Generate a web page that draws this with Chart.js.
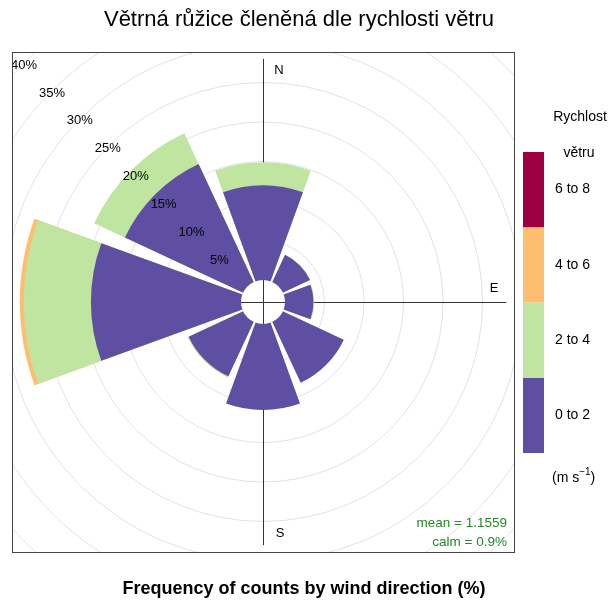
<!doctype html>
<html>

<head>
	<meta charset="utf-8">
	<title>Větrná růžice</title>
	<script src="https://cdn.jsdelivr.net/npm/chart.js@4.4.0/dist/chart.umd.min.js"></script>
	<style>
	body {
		margin: 0;
		background: #fff;
	}
	.chart-container {
		width: 610px;
		height: 601px;
	}
	</style>
</head>

<body>
	<div class="chart-container">
		<canvas id="rose"></canvas>
	</div>
	<script>
		// wind directions (45 degree sectors) and speed bins
		var directions = ['N', 'NE', 'E', 'SE', 'S', 'SW', 'W', 'NW'];
		var speedBins = ['0 to 2', '2 to 4', '4 to 6', '6 to 8'];

		// frequency (%) per direction for each speed bin
		var speed0to2 = [12.0, 3.8, 3.6, 8.5, 10.9, 7.6, 19.0, 16.5];
		var speed2to4 = [2.9, 0, 0.1, 0, 0, 0.15, 8.5, 4.3];
		var speed4to6 = [0, 0, 0, 0, 0, 0, 0.5, 0];
		var speed6to8 = [0, 0, 0, 0, 0, 0, 0, 0];

		var ringTicks = [5, 10, 15, 20, 25, 30, 35, 40];
		var meanSpeed = '1.1559';
		var calmPct = '0.9%';

		var binColors = ['#5E4FA2', '#BFE5A0', '#FDBF6F', '#9E0142'];
		var FONT = '"Liberation Sans", Arial, Helvetica, sans-serif';

		// geometry: hole of 22px, 7.9px per percent, drawing radius 250px
		var holePx = 22;
		var pxPerPct = 7.9;
		var rMin = -holePx / pxPerPct;
		var rMax = rMin + 250 / pxPerPct;
		var panel = {left: 12.5, top: 52.5, right: 514.5, bottom: 552.5};

		var bins = [speed0to2, speed2to4, speed4to6, speed6to8];
		var maxTotal = 0;
		directions.forEach(function(d, i) {
			var t = 0;
			bins.forEach(function(b) { t += b[i]; });
			maxTotal = Math.max(maxTotal, t);
		});

		// cumulative values, each direction followed by a small empty gap sector
		var datasets = bins.map(function(bin, b) {
			var data = [];
			directions.forEach(function(d, i) {
				var cum = 0;
				for (var k = 0; k <= b; k++) {
					cum += bins[k][i];
				}
				data.push(cum, 0);
			});
			return {
				label: speedBins[b],
				data: data,
				borderWidth: 0,
				angle: function(ctx) {
					return ctx.dataIndex % 2 ? 5 : 40;
				},
				backgroundColor: function(ctx) {
					var i = ctx.dataIndex;
					if (i % 2 || !(bin[i / 2] > 0)) {
						return 'rgba(0,0,0,0)';
					}
					return binColors[b];
				}
			};
		});

		var labels = [];
		directions.forEach(function(d) { labels.push(d, ''); });

		function text(ctx, str, x, y, size, opts) {
			opts = opts || {};
			ctx.font = (opts.bold ? 'bold ' : '') + size + 'px ' + FONT;
			ctx.fillStyle = opts.color || '#000';
			ctx.textAlign = opts.align || 'center';
			ctx.textBaseline = 'middle';
			ctx.fillText(str, x, y);
		}

		var roseDecor = {
			id: 'roseDecor',
			beforeDatasetsDraw: function(chart) {
				var ctx = chart.ctx;
				var s = chart.scales.r;
				var cx = s.xCenter, cy = s.yCenter;
				ctx.save();
				ctx.beginPath();
				ctx.rect(panel.left, panel.top, panel.right - panel.left, panel.bottom - panel.top);
				ctx.clip();
				ctx.strokeStyle = '#e2e2e2';
				ctx.lineWidth = 1;
				ringTicks.forEach(function(v) {
					ctx.beginPath();
					ctx.arc(cx, cy, s.getDistanceFromCenterForValue(v), 0, 2 * Math.PI);
					ctx.stroke();
				});
				var ra = s.getDistanceFromCenterForValue(maxTotal);
				ctx.strokeStyle = '#333';
				ctx.beginPath();
				ctx.moveTo(cx - ra, cy + 0.5);
				ctx.lineTo(cx + ra, cy + 0.5);
				ctx.moveTo(cx + 0.5, cy - ra);
				ctx.lineTo(cx + 0.5, cy + ra);
				ctx.stroke();
				ctx.restore();
			},
			afterDatasetsDraw: function(chart) {
				var ctx = chart.ctx;
				var s = chart.scales.r;
				var cx = s.xCenter, cy = s.yCenter;
				var hole = s.getDistanceFromCenterForValue(0);
				ctx.save();

				// hole in the middle, axes cross it
				ctx.fillStyle = '#fff';
				ctx.beginPath();
				ctx.arc(cx, cy, hole, 0, 2 * Math.PI);
				ctx.fill();
				ctx.strokeStyle = '#333';
				ctx.lineWidth = 1;
				ctx.beginPath();
				ctx.moveTo(cx - hole, cy + 0.5);
				ctx.lineTo(cx + hole, cy + 0.5);
				ctx.moveTo(cx + 0.5, cy - hole);
				ctx.lineTo(cx + 0.5, cy + hole);
				ctx.stroke();

				// ring labels along NW
				ctx.save();
				ctx.beginPath();
				ctx.rect(panel.left, panel.top, panel.right - panel.left, panel.bottom - panel.top);
				ctx.clip();
				ringTicks.forEach(function(v) {
					var r = s.getDistanceFromCenterForValue(v) * Math.SQRT1_2;
					text(ctx, v + '%', cx - r, cy - r + 2, 13);
				});
				ctx.restore();

				// compass letters
				var rl = s.getDistanceFromCenterForValue(maxTotal) - 12;
				text(ctx, 'N', cx + 16, cy - rl, 13);
				text(ctx, 'E', cx + rl, cy - 14, 13);
				text(ctx, 'S', cx + 17, cy + rl, 13);

				// statistics
				text(ctx, 'mean = ' + meanSpeed, 507, 523, 13.5, {align: 'right', color: '#228B22'});
				text(ctx, 'calm = ' + calmPct, 507, 542, 13.5, {align: 'right', color: '#228B22'});

				// panel border
				ctx.strokeStyle = '#444';
				ctx.strokeRect(panel.left, panel.top, panel.right - panel.left, panel.bottom - panel.top);

				// title and x label
				text(ctx, 'Větrná růžice členěná dle rychlosti větru', 299, 20, 22);
				text(ctx, 'Frequency of counts by wind direction (%)', 304, 589, 18, {bold: true});

				// colour key
				var keyX = 523, keyW = 21, keyTop = 152, segH = 75.25;
				for (var b = 0; b < speedBins.length; b++) {
					var y0 = keyTop + (speedBins.length - 1 - b) * segH;
					ctx.fillStyle = binColors[b];
					ctx.fillRect(keyX, y0, keyW, segH);
					text(ctx, speedBins[b], 555, y0 + segH / 2, 14, {align: 'left'});
				}
				text(ctx, 'Rychlost', 580, 117, 14);
				text(ctx, 'větru', 579, 153, 14);
				ctx.font = '14px ' + FONT;
				ctx.textAlign = 'left';
				var ux = 552, uy = 478;
				ctx.fillText('(m s', ux, uy);
				var w1 = ctx.measureText('(m s').width;
				ctx.font = '10px ' + FONT;
				ctx.fillText('\u22121', ux + w1, uy - 6);
				var w2 = ctx.measureText('\u22121').width;
				ctx.font = '14px ' + FONT;
				ctx.fillText(')', ux + w1 + w2, uy);
				ctx.restore();
			}
		};

		window.onload = function() {
			var ctx = document.getElementById('rose').getContext('2d');
			new Chart(ctx, {
				type: 'polarArea',
				data: {
					labels: labels,
					datasets: datasets
				},
				options: {
					responsive: true,
					maintainAspectRatio: false,
					animation: false,
					layout: {
						padding: {left: 13, right: 97, top: 52, bottom: 49}
					},
					plugins: {
						legend: {display: false},
						tooltip: {enabled: false}
					},
					scales: {
						r: {
							min: rMin,
							max: rMax,
							startAngle: -20,
							ticks: {display: false, stepSize: 5},
							grid: {display: false},
							angleLines: {display: false},
							pointLabels: {display: false}
						}
					}
				},
				plugins: [roseDecor]
			});
		};
	</script>
</body>

</html>
